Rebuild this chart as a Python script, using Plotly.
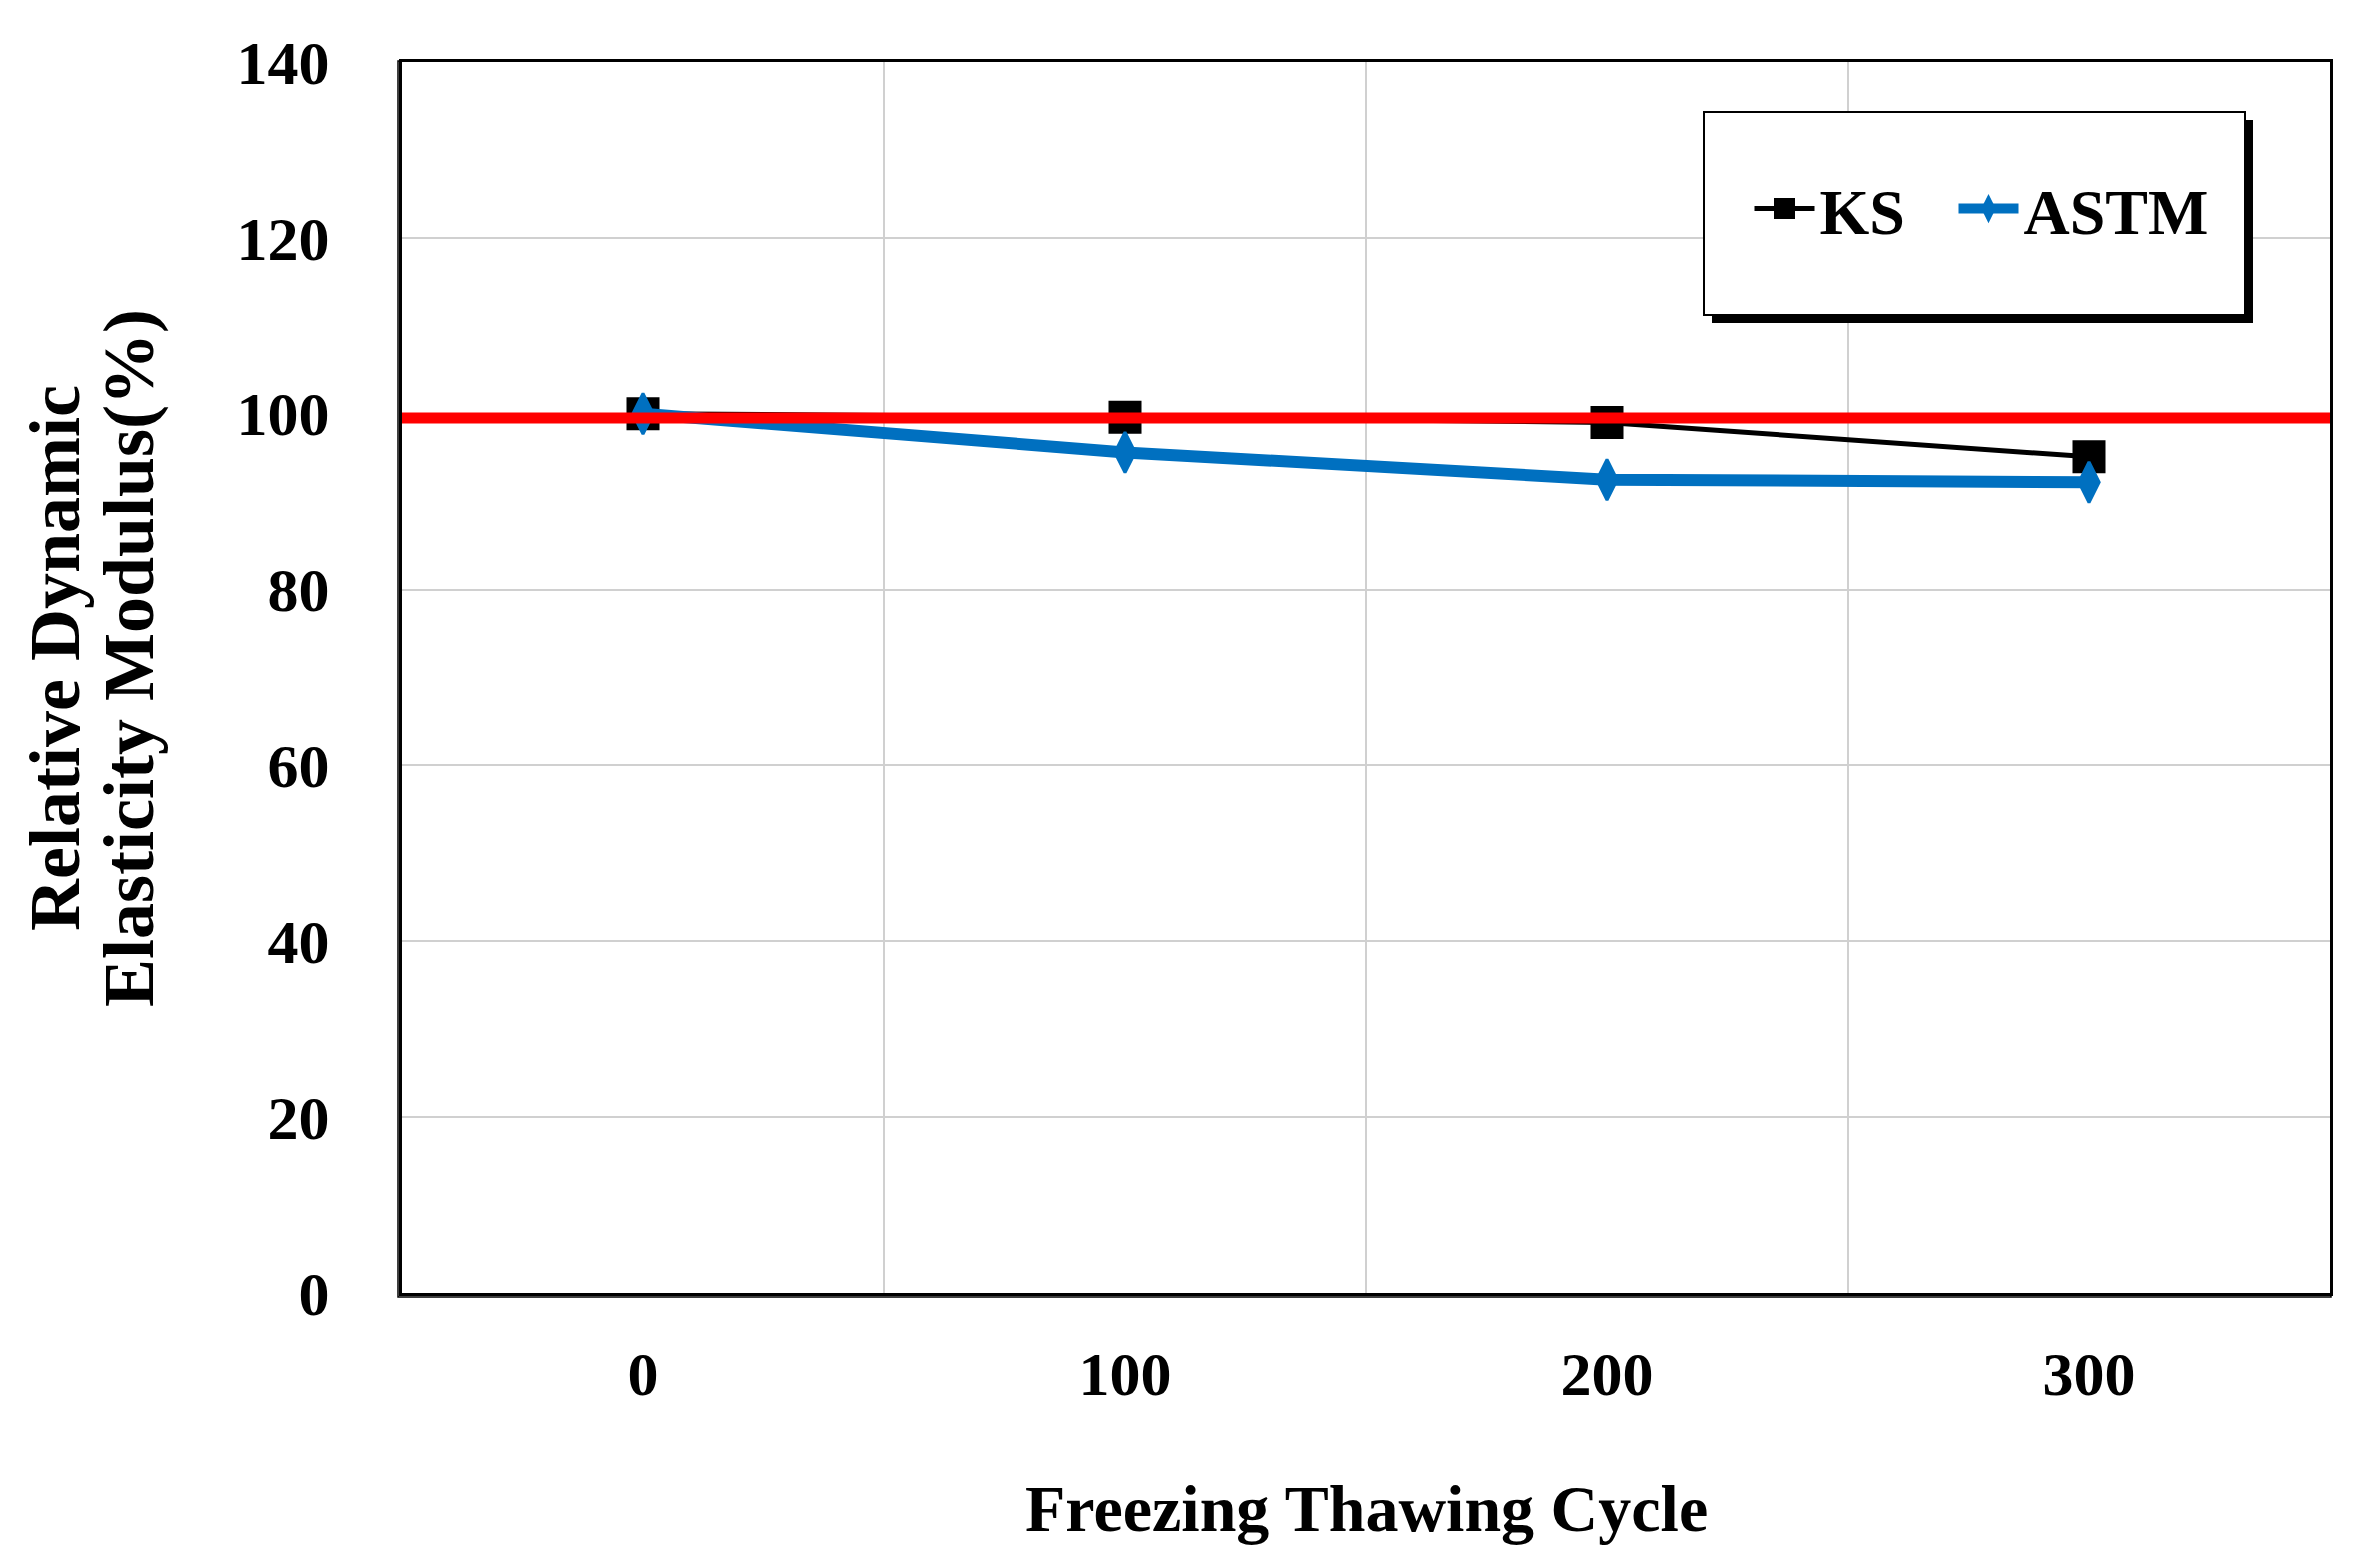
import plotly.graph_objects as go

# ---- data ----
cycles = [0, 100, 200, 300]
ks_values = [100.0, 99.6, 99.0, 95.1]
astm_values = [100.0, 95.6, 92.5, 92.2]
limit_x = [-50, 350]
limit_y = [99.5, 99.5]
x_tick_vals = [0, 100, 200, 300]
x_grid_vals = [50, 150, 250]
y_tick_vals = [0, 20, 40, 60, 80, 100, 120, 140]
y_title_lines = ["Relative Dynamic", "Elasticity Modulus(%)"]
x_title = "Freezing Thawing Cycle"

FONT = "Liberation Serif, Times New Roman, serif"
W, H = 2363, 1565
PW, PH = 1928, 1231
OFF = 8  # page body margin
ML, MT = 402 - OFF, 62 - OFF
MR, MB = W - ML - PW, H - MT - PH
BOTTOM = 1293  # screen y of plot bottom
LEFT = 402     # screen x of plot left
ITEMW = 60

fig = go.Figure()
fig.add_trace(go.Scatter(
    x=cycles, y=ks_values, name="KS", mode="lines+markers", legend="legend",
    line=dict(color="black", width=5),
    marker=dict(symbol="square", size=28, color="black",
                line=dict(color="black", width=5)),
))
fig.add_trace(go.Scatter(
    x=cycles, y=astm_values, name="ASTM", mode="lines+markers", legend="legend2",
    line=dict(color="#0070C0", width=12),
    marker=dict(symbol="diamond-tall", size=29, color="#0070C0",
                line=dict(color="#0070C0", width=3)),
))
fig.add_trace(go.Scatter(
    x=limit_x, y=limit_y, mode="lines", showlegend=False,
    line=dict(color="#FF0000", width=11), hoverinfo="skip",
))

def px_x(p):
    return p / PW

def px_y(p):
    return p / PH

def sx(x):
    return (x - LEFT) / PW

def sy(y):
    return (BOTTOM - y) / PH

shapes = []
shapes.append(dict(type="rect", xref="paper", yref="paper", layer="below",
                   x0=-px_x(4), x1=1 + px_x(1), y0=-px_y(4), y1=1 + px_y(1),
                   line=dict(color="black", width=1.5), fillcolor="rgba(0,0,0,0)"))
lx0, lx1 = sx(1704), sx(2245)
ly0, ly1 = sy(315), sy(112)
shapes.append(dict(type="rect", xref="paper", yref="paper", layer="above",
                   x0=lx0 + px_x(8), x1=lx1 + px_x(8), y0=ly0 - px_y(8), y1=ly1 - px_y(8),
                   line=dict(color="black", width=0), fillcolor="black"))
shapes.append(dict(type="rect", xref="paper", yref="paper", layer="above",
                   x0=lx0, x1=lx1, y0=ly0, y1=ly1,
                   line=dict(color="black", width=2), fillcolor="white"))

title_font = dict(family=FONT, size=72, color="black", weight="bold")
annotations = [
    dict(text=y_title_lines[0], xref="paper", yref="paper",
         x=sx(55), y=sy(658), xanchor="center", yanchor="middle",
         textangle=-90, showarrow=False, font=title_font),
    dict(text=y_title_lines[1], xref="paper", yref="paper",
         x=sx(129), y=sy(658), xanchor="center", yanchor="middle",
         textangle=-90, showarrow=False, font=title_font),
    dict(text=x_title, xref="paper", yref="paper",
         x=0.5, y=sy(1508), xanchor="center", yanchor="middle",
         showarrow=False,
         font=dict(family=FONT, size=66, color="black", weight="bold")),
]

legend_font = dict(family=FONT, size=64, color="black", weight="bold")
text_off = ITEMW + 19.5

fig.update_layout(
    width=W, height=H,
    margin=dict(l=ML, r=MR, t=MT, b=MB, pad=0),
    paper_bgcolor="white", plot_bgcolor="white",
    showlegend=True,
    legend=dict(orientation="h", x=sx(1829 - text_off), xanchor="left",
                y=sy(209), yanchor="middle",
                bgcolor="rgba(0,0,0,0)", borderwidth=0,
                font=legend_font, itemwidth=ITEMW),
    legend2=dict(orientation="h", x=sx(2033 - text_off), xanchor="left",
                 y=sy(209), yanchor="middle",
                 bgcolor="rgba(0,0,0,0)", borderwidth=0,
                 font=legend_font, itemwidth=ITEMW),
    shapes=shapes,
    annotations=annotations,
)
fig.update_xaxes(
    range=[-50, 350], tickmode="array", tickvals=x_tick_vals,
    showgrid=False, zeroline=False,
    showline=True, mirror=True, linecolor="black", linewidth=3,
    ticks="outside", ticklen=25, tickcolor="rgba(0,0,0,0)",
    tickfont=dict(family=FONT, size=62, color="black", weight="bold"),
    minor=dict(tickmode="array", tickvals=x_grid_vals, showgrid=True,
               gridcolor="#D0D0D0", gridwidth=2, ticks=""),
)
fig.update_yaxes(
    range=[0, 140], tickmode="array", tickvals=y_tick_vals,
    showgrid=True, gridcolor="#D0D0D0", gridwidth=2, zeroline=False,
    showline=True, mirror=True, linecolor="black", linewidth=3,
    ticks="outside", ticklen=57, tickcolor="rgba(0,0,0,0)",
    tickfont=dict(family=FONT, size=62, color="black", weight="bold"),
)

fig.write_html("out.html")
